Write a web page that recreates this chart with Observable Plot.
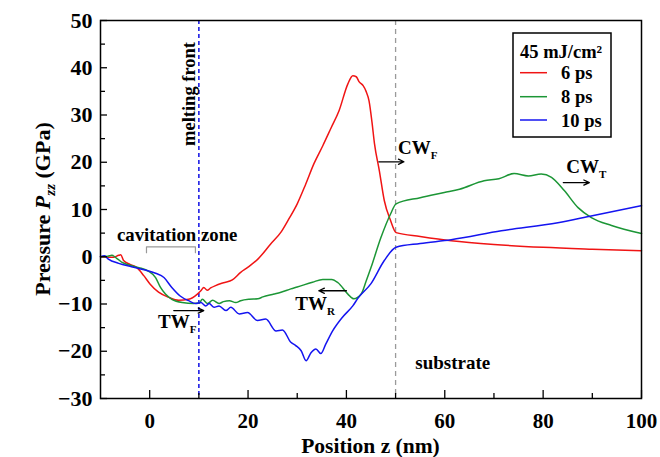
<!DOCTYPE html>
<html>
<head>
<meta charset="utf-8">
<script src="https://cdn.jsdelivr.net/npm/d3@7"></script>
<script src="https://cdn.jsdelivr.net/npm/@observablehq/plot@0.6"></script>
<style>
  html, body { margin: 0; padding: 0; background: #fff; }
  #chart { width: 660px; height: 457px; }
</style>
</head>
<body>
<div id="chart"></div>
<script>
// ---- data ----
const series = ["6 ps", "8 ps", "10 ps"];
const colors = ["#f01414", "#1c9636", "#1414f0"];

const x6 = [-10, -8.5, -7.3, -6.3, -5.9, -5.3, -4, -2.6, -1.2, 0.1, 1.8, 3.9, 5.9, 7.9, 9.7, 10.4, 11, 11.7, 12.4, 13.4, 15, 16.8, 18.5, 20, 22, 24.6, 26.7, 28.3, 30, 31.7, 33.4, 35.2, 36.9, 38.5, 40.3, 41.3, 42, 42.6, 43.4, 44, 44.6, 45.2, 45.7, 46.7, 47.7, 49, 50.1, 55, 61.3, 70, 80, 90, 100];
const y6 = [0, -0.1, -0.1, 0.3, 0.4, -0.8, -1.6, -2.3, -4, -5.8, -7.5, -8.6, -9.2, -9.0, -7.9, -7.2, -6.5, -7.1, -6.6, -6.1, -5.5, -4.9, -3.3, -2.2, -0.5, 2.7, 5.2, 8, 11.2, 15.3, 19.7, 23.5, 27.3, 30.9, 36.6, 38.3, 38.1, 37, 36.2, 35, 33, 28.5, 24, 18.2, 11.9, 7.6, 5.1, 4.3, 3.4, 2.6, 2.0, 1.6, 1.27];

const x8 = [-10, -8.5, -7.7, -6.5, -5.6, -4, -2.2, -0.2, 1.2, 2.2, 3.2, 4.5, 6.6, 9, 10.1, 10.7, 11.8, 12.8, 14.1, 15, 16.2, 17.5, 18.5, 20.2, 22, 23, 25.3, 26.7, 28.7, 30, 33.1, 35.2, 37, 38.3, 40.3, 41.5, 43, 44, 45, 47, 49, 50.1, 55, 59.9, 63, 68, 71, 74.1, 77, 79.6, 81.7, 84.3, 87.1, 89.8, 93.9, 100];
const y8 = [0, 0.1, 0.3, -0.5, -1.2, -1.8, -2.3, -3.1, -4.4, -6.5, -7.9, -9, -9.7, -9.9, -9.8, -9.0, -9.9, -9.2, -9.9, -9.5, -9.3, -9.7, -9.3, -9.0, -8.9, -8.5, -7.9, -7.5, -6.8, -6.4, -5.4, -4.8, -4.8, -5.5, -7.9, -8.9, -7.9, -5.2, -2.3, 4, 9.1, 11.2, 12.5, 13.6, 14.3, 16.1, 16.5, 17.6, 17.1, 17.5, 16.8, 14, 10.4, 8.3, 6.6, 4.9];

const x10 = [-10, -9.2, -8.4, -6.3, -3.7, -0.9, 1.2, 2.9, 4.5, 6.2, 7.9, 9.4, 10.4, 11.4, 12.1, 13.1, 14.1, 15.5, 16.5, 18.2, 19.9, 21.9, 23.6, 25.7, 27, 28.7, 29.7, 30.8, 31.8, 32.8, 33.8, 34.8, 35.8, 37.2, 39.2, 41.3, 42.4, 45, 47.7, 50.1, 55, 61.3, 71.5, 83, 90, 100];
const y10 = [0, 0.2, -0.5, -1.4, -2.1, -2.8, -3.5, -4.4, -6.5, -8.3, -9.3, -9.9, -9.7, -10.4, -9.9, -10.7, -10.4, -11.4, -10.7, -12.1, -11.8, -13.5, -13.2, -15.7, -15.5, -18.1, -18.8, -19.9, -22, -20.3, -19.5, -20.5, -18.5, -15.7, -12.8, -10.4, -8.7, -5.7, -0.8, 2, 2.8, 3.6, 5.5, 7.2, 8.7, 10.8];

const xTickLabels = [0, 20, 40, 60, 80, 100];
const xMinorTicks = [10, 30, 50, 70, 90];
const yTickLabels = [-30, -20, -10, 0, 10, 20, 30, 40, 50];
const yMinorTicks = [-25, -15, -5, 5, 15, 25, 35, 45];

const meltingFront = [10];
const substrateEdge = [50];
const bracket = [{x: -0.65, y: 0.85}, {x: -0.65, y: 2.1}, {x: 9.3, y: 2.1}, {x: 9.3, y: 0.85}];
const arrows = [
  {x1: 4.9, y1: -11.4, x2: 11.0, y2: -11.4},
  {x1: 40.0, y1: -7.2, x2: 34.4, y2: -7.2},
  {x1: 46.6, y1: 20.1, x2: 51.7, y2: 20.1},
  {x1: 84.1, y1: 15.7, x2: 89.4, y2: 15.7}
];
const waveLabels = [
  {x: 1.8, y: -15.2, main: "TW", sub: "F"},
  {x: 29.7, y: -11.4, main: "TW", sub: "R"},
  {x: 50.6, y: 21.6, main: "CW", sub: "F"},
  {x: 84.8, y: 17.6, main: "CW", sub: "T"}
];

const toRows = (xs, ys, s) => xs.map((x, i) => ({x, y: ys[i], s}));
const rows = [
  ...toRows(x6, y6, series[0]),
  ...toRows(x8, y8, series[1]),
  ...toRows(x10, y10, series[2])
];

const W = 660, H = 457, mL = 100, mR = 19, mT = 20, mB = 59;
const pw = W - mL - mR, ph = H - mT - mB;
const font = "Liberation Serif, Times New Roman, serif";

const plot = Plot.plot({
  width: W, height: H,
  marginLeft: mL, marginRight: mR, marginTop: mT, marginBottom: mB,
  style: {fontFamily: font, fontWeight: "bold", fontSize: "21px", background: "#fff", color: "#000", overflow: "visible"},
  x: {domain: [-10, 100]},
  y: {domain: [-30, 50]},
  color: {domain: series, range: colors},
  marks: [
    Plot.ruleX(meltingFront, {stroke: "#1e1ee6", strokeWidth: 1.6, strokeDasharray: "4,3"}),
    Plot.ruleX(substrateEdge, {stroke: "#9a9a9a", strokeWidth: 1.3, strokeDasharray: "5,4"}),
    Plot.line(bracket, {x: "x", y: "y", stroke: "#999", strokeWidth: 1.2}),
    Plot.line(rows, {x: "x", y: "y", z: "s", stroke: "s", strokeWidth: 1.5, curve: "monotone-x"}),
    Plot.arrow(arrows, {x1: "x1", y1: "y1", x2: "x2", y2: "y2", stroke: "#000", strokeWidth: 1.3, headLength: 7, headAngle: 50}),
    Plot.tickY(yTickLabels, {stroke: "#000", strokeWidth: 1.3, insetRight: pw - 7}),
    Plot.tickY(yMinorTicks, {stroke: "#000", strokeWidth: 1.3, insetRight: pw - 5}),
    Plot.tickX(xTickLabels, {stroke: "#000", strokeWidth: 1.3, insetTop: ph - 8}),
    Plot.tickX(xMinorTicks, {stroke: "#000", strokeWidth: 1.3, insetTop: ph - 5}),
    Plot.axisY(yTickLabels, {tickSize: 0, tickPadding: 8, fontSize: 22, fontWeight: "bold", label: null}),
    Plot.axisX(xTickLabels, {tickSize: 0, tickPadding: 15, fontSize: 21, fontWeight: "bold", label: null}),
    Plot.frame({stroke: "#000", strokeWidth: 1.5})
  ]
});

document.getElementById("chart").appendChild(plot);

const sx = plot.scale("x"), sy = plot.scale("y");
const svg = d3.select(plot);

const txt = (sel, size, anchor = "start") => sel
  .attr("text-anchor", anchor)
  .attr("font-family", font).attr("font-weight", "bold").attr("font-size", size).attr("fill", "#000");

// y axis label
const yl = txt(svg.append("text"), 22, "middle")
  .attr("transform", `translate(50,${mT + ph / 2}) rotate(-90)`);
yl.append("tspan").text("Pressure ");
yl.append("tspan").attr("font-style", "italic").text("P");
yl.append("tspan").attr("font-style", "italic").attr("font-size", 15).attr("dy", 5).text("zz");
yl.append("tspan").attr("dy", -5).text(" (GPa)");

// x axis label
txt(svg.append("text"), 21.5, "middle")
  .attr("x", mL + pw / 2).attr("y", 452.5)
  .text("Position z (nm)");

// annotations
txt(svg.append("text"), 18.5, "end")
  .attr("transform", `translate(${sx.apply(meltingFront[0]) - 3},42) rotate(-90)`)
  .text("melting front");

txt(svg.append("text"), 18.8).attr("x", sx.apply(-6.55)).attr("y", sy.apply(3.2)).text("cavitation zone");
txt(svg.append("text"), 19).attr("x", sx.apply(54.1)).attr("y", sy.apply(-23.9)).text("substrate");

for (const w of waveLabels) {
  const t = txt(svg.append("text"), 19).attr("x", sx.apply(w.x)).attr("y", sy.apply(w.y));
  t.append("tspan").text(w.main);
  t.append("tspan").attr("font-size", 11).attr("dy", 5).text(w.sub);
}

// legend
const lg = svg.append("g");
lg.append("rect").attr("x", 513).attr("y", 33).attr("width", 98).attr("height", 104)
  .attr("fill", "#fff").attr("stroke", "#000").attr("stroke-width", 1.5);
txt(lg.append("text"), 18.5).attr("x", 520).attr("y", 57.5).text("45 mJ/cm²");
const ly = [72.7, 96.7, 120];
const lb = [79, 103, 126.5];
series.forEach((s, i) => {
  lg.append("line").attr("x1", 520).attr("x2", 547).attr("y1", ly[i]).attr("y2", ly[i])
    .attr("stroke", colors[i]).attr("stroke-width", 1.5);
  txt(lg.append("text"), 18.5).attr("x", 561).attr("y", lb[i]).text(s);
});
</script>
</body>
</html>
